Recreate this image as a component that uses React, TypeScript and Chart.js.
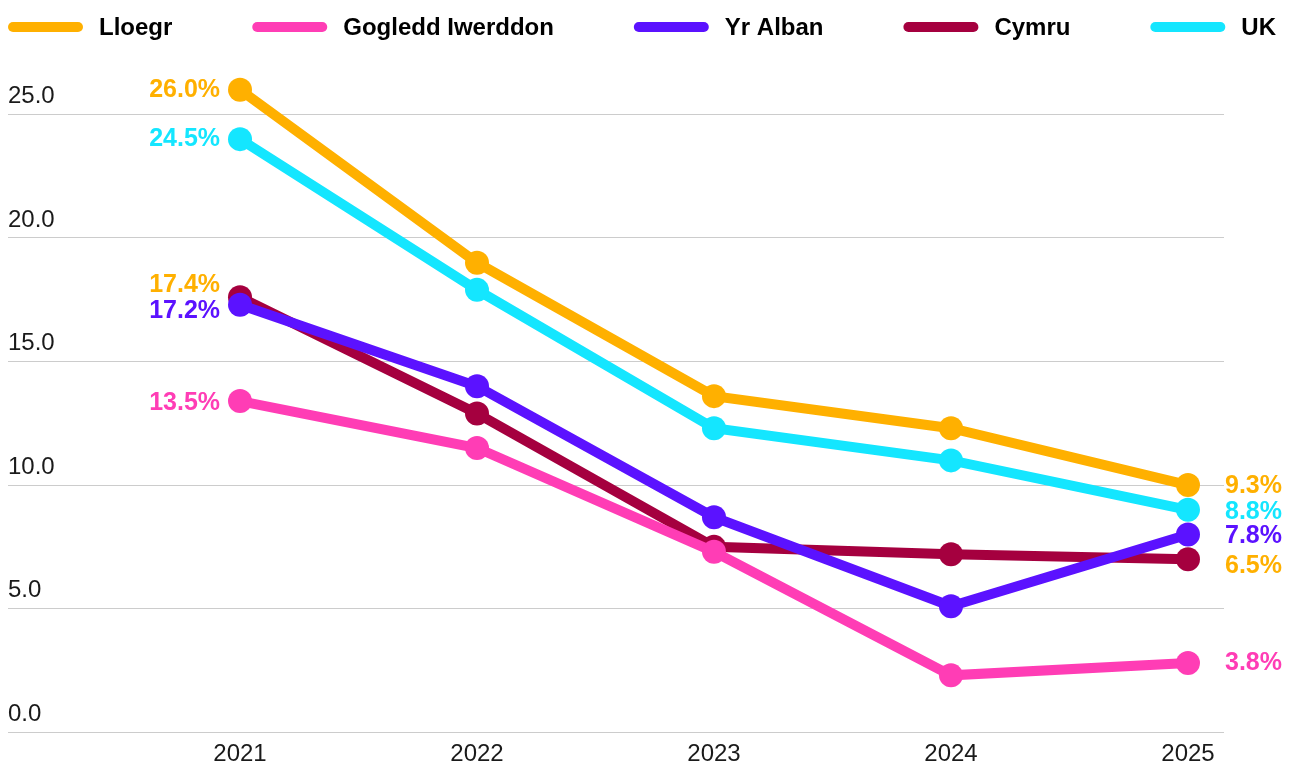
import React, { useEffect, useRef } from "react";
import { Chart, registerables } from "chart.js";

Chart.register(...registerables);

const YEARS = [2021, 2022, 2023, 2024, 2025];
const SERIES_NAMES = ["Lloegr", "Gogledd Iwerddon", "Yr Alban", "Cymru", "UK"];
const LLOEGR = [26.0, 19.0, 13.6, 12.3, 10.0];
const GOGLEDD_IWERDDON = [13.4, 11.5, 7.3, 2.3, 2.8];
const YR_ALBAN = [17.3, 14.0, 8.7, 5.1, 8.0];
const CYMRU = [17.6, 12.9, 7.5, 7.2, 7.0];
const UK = [24.0, 17.9, 12.3, 11.0, 9.0];
const START_LABELS = ["26.0%", "13.5%", "17.2%", "17.4%", "24.5%"];
const END_LABELS = ["9.3%", "3.8%", "7.8%", "6.5%", "8.8%"];
const Y_TICKS = [0, 5, 10, 15, 20, 25];

const COLORS = ["#FFB000", "#FF3DB5", "#5B12FF", "#A5003F", "#14E6FF"];
const LABEL_COLORS = ["#FFB000", "#FF3DB5", "#5B12FF", "#FFB000", "#14E6FF"];
const START_NUDGE = [0, 2, 6, -12, 0];
const END_NUDGE = [1, 0, 2, 7, 2];

const SERIES = [LLOEGR, GOGLEDD_IWERDDON, YR_ALBAN, CYMRU, UK];

const LABEL_FONT = "bold 25px 'Liberation Sans', Arial, sans-serif";
const LEGEND_FONT = "bold 24px 'Liberation Sans', Arial, sans-serif";
const SHIFT = 12;

const dataLabelPlugin = {
  id: "dataLabels",
  afterDatasetsDraw(chart: any) {
    const ctx = chart.ctx;
    ctx.save();
    ctx.font = LABEL_FONT;
    ctx.textBaseline = "middle";
    chart.data.datasets.forEach((_ds: any, i: number) => {
      const meta = chart.getDatasetMeta(i);
      const pts = meta.data;
      if (!pts.length) return;
      const first = pts[0];
      const last = pts[pts.length - 1];
      ctx.fillStyle = LABEL_COLORS[i];
      ctx.textAlign = "right";
      ctx.fillText(START_LABELS[i], first.x - 20, first.y + START_NUDGE[i]);
      ctx.textAlign = "left";
      ctx.fillText(END_LABELS[i], last.x + 37, last.y + END_NUDGE[i]);
    });
    ctx.restore();
  },
};

const legendPlugin = {
  id: "customLegend",
  afterDraw(chart: any) {
    const ctx = chart.ctx;
    ctx.save();
    ctx.font = LEGEND_FONT;
    ctx.textBaseline = "middle";
    ctx.textAlign = "left";
    const boxW = 75;
    const boxH = 10;
    const gapText = 16;
    const widths = SERIES_NAMES.map((n) => boxW + gapText + ctx.measureText(n).width);
    const total = widths.reduce((a, b) => a + b, 0);
    const left = chart.chartArea.left;
    const right = chart.width - 9;
    const gap = (right - left - total) / (SERIES_NAMES.length - 1);
    let x = left;
    const cy = 19;
    SERIES_NAMES.forEach((name, i) => {
      ctx.fillStyle = COLORS[i];
      ctx.beginPath();
      (ctx as any).roundRect(x, cy - boxH / 2, boxW, boxH, boxH / 2);
      ctx.fill();
      ctx.fillStyle = "#000";
      ctx.fillText(name, x + boxW + gapText, cy + 1);
      x += widths[i] + gap;
    });
    ctx.restore();
  },
};

export default function App() {
  const ref = useRef<HTMLCanvasElement | null>(null);
  useEffect(() => {
    document.documentElement.style.overflow = "hidden";
    const canvas = ref.current;
    if (!canvas) return;
    const chart = new Chart(canvas, {
      type: "line",
      data: {
        datasets: SERIES.map((vals, i) => ({
          label: SERIES_NAMES[i],
          data: vals.map((v, j) => ({ x: YEARS[j], y: v })),
          borderColor: COLORS[i],
          backgroundColor: COLORS[i],
          borderWidth: 10,
          pointRadius: 12,
          pointHoverRadius: 12,
          pointBorderWidth: 0,
          pointBackgroundColor: COLORS[i],
          tension: 0,
          fill: false,
        })),
      },
      options: {
        animation: false,
        responsive: true,
        maintainAspectRatio: false,
        layout: { padding: { top: 57, right: 61, left: 0, bottom: -12 } },
        plugins: {
          legend: { display: false },
          tooltip: { enabled: false },
        },
        scales: {
          x: {
            type: "linear",
            min: 2020.021,
            max: 2025.152,
            afterBuildTicks: (scale: any) => {
              scale.ticks = YEARS.map((v) => ({ value: v }));
            },
            ticks: {
              callback: (v: any) => String(v),
              color: "#1a1a1a",
              font: { family: "'Liberation Sans', Arial, sans-serif", size: 24 },
              padding: 8,
              maxRotation: 0,
              autoSkip: false,
            },
            grid: { display: false, drawTicks: false },
            border: { display: false },
          },
          y: {
            min: 0,
            max: 27,
            afterBuildTicks: (scale: any) => {
              scale.ticks = Y_TICKS.map((v) => ({ value: v }));
            },
            ticks: {
              mirror: true,
              padding: 0,
              labelOffset: -18,
              callback: (v: any) => Number(v).toFixed(1),
              color: "#1a1a1a",
              font: { family: "'Liberation Sans', Arial, sans-serif", size: 24 },
            },
            grid: { color: "#cccccc", lineWidth: 1, drawTicks: false },
            border: { display: false },
          },
        },
      },
      plugins: [dataLabelPlugin, legendPlugin],
    });
    return () => chart.destroy();
  }, []);
  return (
    <div
      style={{
        position: "relative",
        marginLeft: `-${SHIFT}px`,
        width: `calc(100% + ${SHIFT}px)`,
        height: "757px",
      }}
    >
      <canvas ref={ref} />
    </div>
  );
}
